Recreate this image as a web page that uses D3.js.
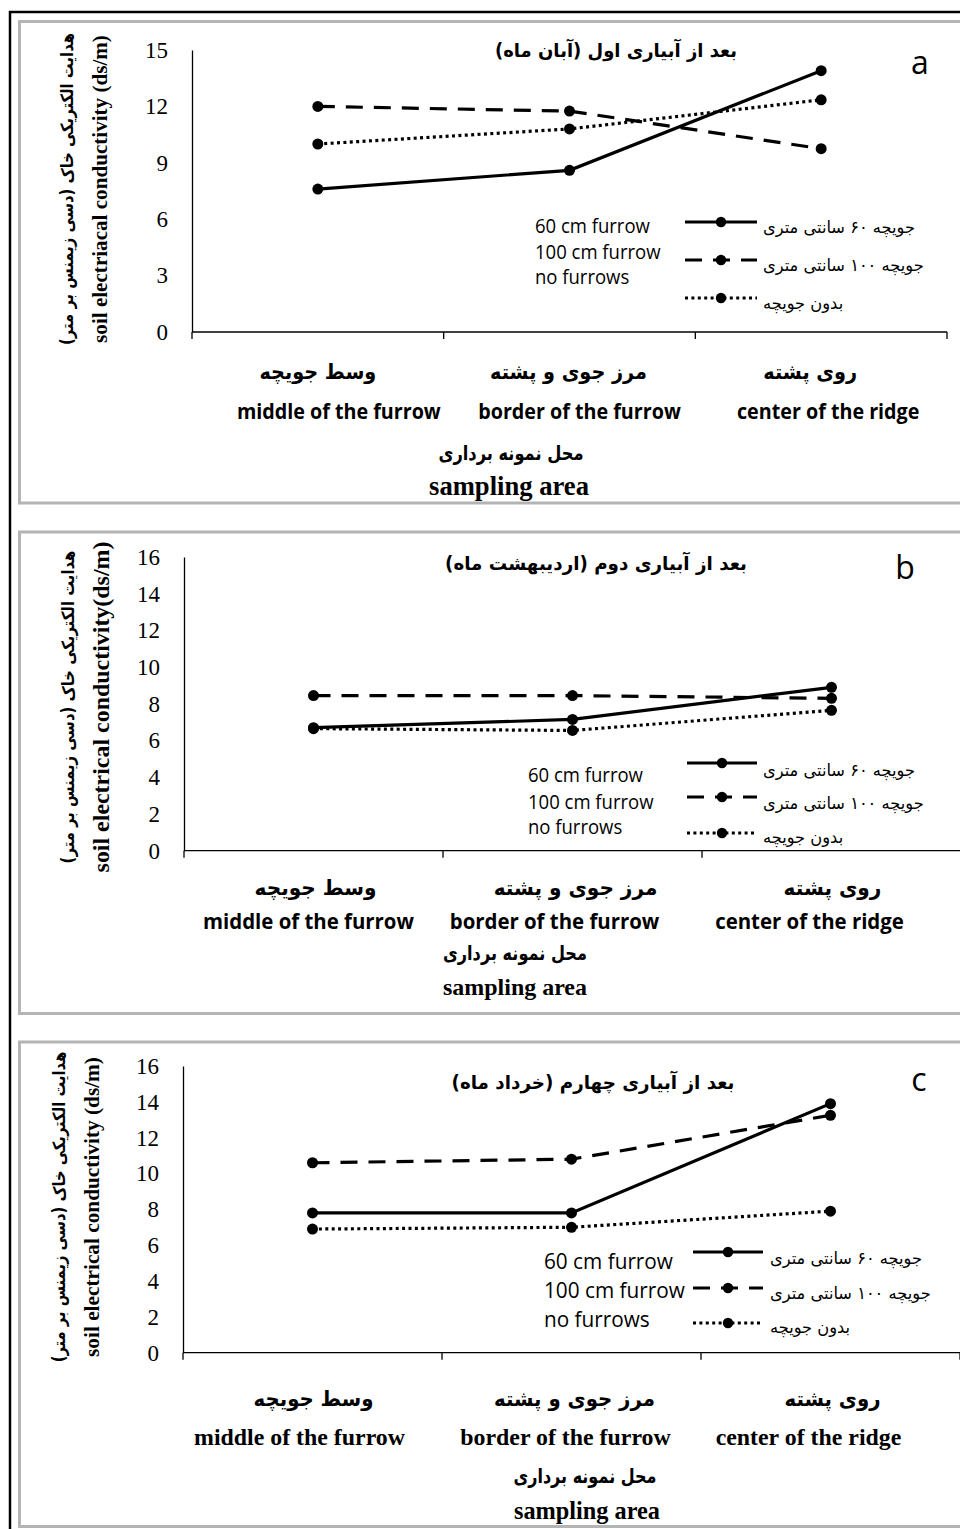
<!DOCTYPE html>
<html>
<head>
<meta charset="utf-8">
<script src="https://cdn.jsdelivr.net/npm/d3@7"></script>
<style>
  body { margin: 0; background: #fff; }
  svg { display: block; }
</style>
</head>
<body>
<div id="chart"></div>
<script>
// categories and series names
const categoriesFa = ["وسط جویچه", "مرز جوی و پشته", "روی پشته"];
const categoriesEn = ["middle of the furrow", "border of the furrow", "center of the ridge"];
const seriesFa = ["جویچه ۶۰ سانتی متری", "جویچه ۱۰۰ سانتی متری", "بدون جویچه"];
const seriesEn = ["60 cm furrow", "100 cm furrow", "no furrows"];
const axisFa = "محل نمونه برداری";
const axisEn = "sampling area";
const yLabelFa = "هدایت الکتریکی خاک (دسی زیمنس بر متر)";

// values (ds/m)
const ecA60 = [7.6, 8.6, 13.9];
const ecA100 = [12.0, 11.75, 9.75];
const ecANone = [10.0, 10.8, 12.35];

const ecB60 = [6.7, 7.15, 8.9];
const ecB100 = [8.45, 8.45, 8.3];
const ecBNone = [6.65, 6.55, 7.65];

const ecC60 = [7.8, 7.8, 13.9];
const ecC100 = [10.6, 10.8, 13.25];
const ecCNone = [6.9, 7.0, 7.9];

const ticksA = [0, 3, 6, 9, 12, 15];
const ticksBC = [0, 2, 4, 6, 8, 10, 12, 14, 16];

const dashes = [null, "17,11", "3,3.4"];

const faFont = "'DejaVu Sans', sans-serif";
const sansFont = "'Open Sans', 'Noto Sans', sans-serif";
const serifFont = "'Liberation Serif', 'DejaVu Serif', serif";

// layout of the three panels
const panels = [
  {
    letter: "a", title: "بعد از آبیاری اول (آبان ماه)", yLabelEn: "soil electriacal conductivity (ds/m)",
    series: [ecA60, ecA100, ecANone], ticks: ticksA, yMax: 15,
    frameTop: 21.5, frameBottom: 503, x0: 192, x1: 947, yTop: 50, yBottom: 332,
    titleX: 616, titleY: 50, titleW: 242, letterX: 920, letterY: 63,
    yLabFaX: 67, yLabEnX: 100, yLabY: 189, yLabFaW: 312, yLabEnW: 308,
    legEnX: 535, legEnY: [226, 252, 277], legEnW: 115,
    legLineX: [685, 757], legLineY: [222, 260, 298],
    legFaX: 763, legFaY: [227, 265, 303], legFaW: 152,
    catFaY: 372, catFaDx: [0, -1, -11], catFaW: 117,
    catEnY: 411, catEnDx: [21, 10, 7], catEnW: 204, catEnSerif: false,
    axFaX: 511, axFaY: 453, axFaW: 145, axEnX: 509, axEnY: 486, axEnW: 160
  },
  {
    letter: "b", title: "بعد از آبیاری دوم (اردیبهشت ماه)", yLabelEn: "soil electrical conductivity(ds/m)",
    series: [ecB60, ecB100, ecBNone], ticks: ticksBC, yMax: 16,
    frameTop: 532, frameBottom: 1013.5, x0: 184, x1: 961, yTop: 557, yBottom: 850.7,
    titleX: 596, titleY: 563, titleW: 302, letterX: 905, letterY: 568,
    yLabFaX: 68, yLabEnX: 101, yLabY: 707, yLabFaW: 313, yLabEnW: 331,
    legEnX: 528, legEnY: [775, 802, 827], legEnW: 115,
    legLineX: [687, 757], legLineY: [763, 797, 833],
    legFaX: 763, legFaY: [770, 803, 837], legFaW: 152,
    catFaY: 888, catFaDx: [2, 3, 1], catFaW: 122,
    catEnY: 921, catEnDx: [-5, -18, -22], catEnW: 211, catEnSerif: false,
    axFaX: 515, axFaY: 953, axFaW: 144, axEnX: 515, axEnY: 987, axEnW: 144
  },
  {
    letter: "c", title: "بعد از آبیاری چهارم (خرداد ماه)", yLabelEn: "soil electrical conductivity (ds/m)",
    series: [ecC60, ecC100, ecCNone], ticks: ticksBC, yMax: 16,
    frameTop: 1042, frameBottom: 1526.5, x0: 183, x1: 960, yTop: 1066, yBottom: 1352.7,
    titleX: 593, titleY: 1082, titleW: 283, letterX: 919, letterY: 1080,
    yLabFaX: 59, yLabEnX: 92, yLabY: 1207, yLabFaW: 311, yLabEnW: 300,
    legEnX: 544, legEnY: [1261, 1290, 1319], legEnW: 129,
    legLineX: [693, 763], legLineY: [1252, 1288, 1323],
    legFaX: 770, legFaY: [1258, 1293, 1327], legFaW: 152,
    catFaY: 1399, catFaDx: [1, 3, 2], catFaW: 120,
    catEnY: 1437, catEnDx: [-13, -6, -22], catEnW: 211, catEnSerif: true,
    axFaX: 585, axFaY: 1476, axFaW: 143, axEnX: 587, axEnY: 1510, axEnW: 146
  }
];

const svg = d3.select("#chart").append("svg")
  .attr("width", 960)
  .attr("height", 1529);

// change font size of a group so the first text gets the wanted width
function fitGroup(sel, width) {
  const first = sel.node();
  const fs = parseFloat(d3.select(first).attr("font-size"));
  const w = first.getComputedTextLength();
  if (w > 0) sel.attr("font-size", (fs * width / w).toFixed(2));
}

// keep the font size, squeeze the glyphs sideways instead
function squeezeGroup(sel, width) {
  const w = sel.node().getComputedTextLength();
  if (!(w > 0)) return;
  const sx = width / w;
  sel.attr("transform", function () {
    const tx = +this.getAttribute("x"), ty = +this.getAttribute("y");
    return "translate(" + tx + "," + ty + ") scale(" + sx.toFixed(4) + ",1) translate(" + (-tx) + "," + (-ty) + ")";
  });
}

// outer black frame
svg.append("rect")
  .attr("x", 10).attr("y", 12)
  .attr("width", 1000).attr("height", 1600)
  .attr("fill", "none").attr("stroke", "#000").attr("stroke-width", 2.5);

panels.forEach(drawPanel);

function drawPanel(p) {
  const g = svg.append("g");

  g.append("rect")
    .attr("x", 19.5).attr("y", p.frameTop)
    .attr("width", 1000).attr("height", p.frameBottom - p.frameTop)
    .attr("fill", "#fff").attr("stroke", "#b4b4b4").attr("stroke-width", 3);

  const x = d3.scaleBand().domain(categoriesEn).range([p.x0, p.x1]);
  const y = d3.scaleLinear().domain([0, p.yMax]).range([p.yBottom, p.yTop]);
  const cx = (d, i) => x(categoriesEn[i]) + x.bandwidth() / 2;

  // y axis
  const yAxisG = g.append("g")
    .attr("transform", "translate(" + p.x0 + ",0)")
    .call(d3.axisLeft(y).tickValues(p.ticks).tickSize(0).tickPadding(24).tickFormat(d3.format("d")));
  yAxisG.select(".domain").attr("stroke", "#000").attr("stroke-width", 1.3);
  yAxisG.selectAll("text")
    .attr("font-family", serifFont)
    .attr("font-size", 23)
    .attr("fill", "#000");

  // x axis with ticks on the category borders
  g.append("line")
    .attr("x1", p.x0).attr("x2", p.x1)
    .attr("y1", y(0)).attr("y2", y(0))
    .attr("stroke", "#000").attr("stroke-width", 1.3);
  const borders = categoriesEn.map(c => x(c)).concat([p.x1]);
  g.selectAll(".xtick").data(borders).enter().append("line")
    .attr("x1", d => d).attr("x2", d => d)
    .attr("y1", y(0)).attr("y2", y(0) + 7)
    .attr("stroke", "#000").attr("stroke-width", 1.3);

  // series lines
  const line = d3.line().x(cx).y(d => y(d));
  p.series.forEach((vals, k) => {
    g.append("path")
      .datum(vals)
      .attr("d", line)
      .attr("fill", "none")
      .attr("stroke", "#000")
      .attr("stroke-width", 3.2)
      .attr("stroke-dasharray", dashes[k]);
  });
  p.series.forEach(vals => {
    g.selectAll(null).data(vals).enter().append("circle")
      .attr("cx", cx)
      .attr("cy", d => y(d))
      .attr("r", 5.5)
      .attr("fill", "#000");
  });

  // title and panel letter
  const title = g.append("text")
    .attr("x", p.titleX).attr("y", p.titleY).attr("dy", "0.35em")
    .attr("direction", "rtl").attr("text-anchor", "middle")
    .attr("font-family", faFont).attr("font-weight", "bold").attr("font-size", 19)
    .text(p.title);
  squeezeGroup(title, p.titleW);

  g.append("text")
    .attr("x", p.letterX).attr("y", p.letterY).attr("dy", "0.35em")
    .attr("text-anchor", "middle")
    .attr("font-family", sansFont).attr("font-size", 32)
    .text(p.letter);

  // y axis titles
  const yFa = g.append("text")
    .attr("dy", "0.35em")
    .attr("direction", "rtl").attr("text-anchor", "middle")
    .attr("font-family", faFont).attr("font-weight", "bold").attr("font-size", 17)
    .text(yLabelFa);
  const kFa = p.yLabFaW / yFa.node().getComputedTextLength();
  yFa.attr("transform", "translate(" + p.yLabFaX + "," + p.yLabY + ") rotate(-90) scale(" + kFa.toFixed(4) + ",1)");

  const yEn = g.append("text")
    .attr("transform", "translate(" + p.yLabEnX + "," + p.yLabY + ") rotate(-90)")
    .attr("dy", "0.35em")
    .attr("text-anchor", "middle")
    .attr("font-family", serifFont).attr("font-weight", "bold").attr("font-size", 20)
    .text(p.yLabelEn);
  fitGroup(yEn, p.yLabEnW);

  // legend
  const legEn = g.selectAll(null).data(seriesEn).enter().append("text")
    .attr("x", p.legEnX).attr("y", (d, i) => p.legEnY[i]).attr("dy", "0.35em")
    .attr("font-family", sansFont).attr("font-size", p.legEnW > 120 ? 21.5 : 19.5)
    .text(d => d);
  squeezeGroup(legEn, p.legEnW);

  seriesEn.forEach((s, k) => {
    const ly = p.legLineY[k];
    g.append("line")
      .attr("x1", p.legLineX[0]).attr("x2", p.legLineX[1])
      .attr("y1", ly).attr("y2", ly)
      .attr("stroke", "#000").attr("stroke-width", 3.2)
      .attr("stroke-dasharray", dashes[k]);
    g.append("circle")
      .attr("cx", (p.legLineX[0] + p.legLineX[1]) / 2).attr("cy", ly)
      .attr("r", 5.2).attr("fill", "#000");
  });

  const legFa = g.selectAll(null).data(seriesFa).enter().append("text")
    .attr("x", p.legFaX).attr("y", (d, i) => p.legFaY[i]).attr("dy", "0.35em")
    .attr("direction", "rtl").attr("text-anchor", "end")
    .attr("font-family", faFont).attr("font-size", 17)
    .text(d => d);
  squeezeGroup(legFa, p.legFaW);

  // category labels
  const catFa = g.selectAll(null).data(categoriesFa).enter().append("text")
    .attr("x", (d, i) => cx(d, i) + p.catFaDx[i]).attr("y", p.catFaY).attr("dy", "0.35em")
    .attr("direction", "rtl").attr("text-anchor", "middle")
    .attr("font-family", faFont).attr("font-weight", "bold").attr("font-size", 21)
    .text(d => d);
  squeezeGroup(catFa, p.catFaW);

  const catEn = g.selectAll(null).data(categoriesEn).enter().append("text")
    .attr("x", (d, i) => cx(d, i) + p.catEnDx[i]).attr("y", p.catEnY).attr("dy", "0.35em")
    .attr("text-anchor", "middle")
    .attr("font-family", p.catEnSerif ? serifFont : sansFont).attr("font-weight", "bold")
    .attr("font-size", 21.5)
    .text(d => d);
  if (p.catEnSerif) fitGroup(catEn, p.catEnW);
  else squeezeGroup(catEn, p.catEnW);

  // axis title
  const axFa = g.append("text")
    .attr("x", p.axFaX).attr("y", p.axFaY).attr("dy", "0.35em")
    .attr("direction", "rtl").attr("text-anchor", "middle")
    .attr("font-family", faFont).attr("font-weight", "bold").attr("font-size", 20)
    .text(axisFa);
  squeezeGroup(axFa, p.axFaW);

  const axEn = g.append("text")
    .attr("x", p.axEnX).attr("y", p.axEnY).attr("dy", "0.35em")
    .attr("text-anchor", "middle")
    .attr("font-family", serifFont).attr("font-weight", "bold").attr("font-size", 22)
    .text(axisEn);
  fitGroup(axEn, p.axEnW);
}
</script>
</body>
</html>
